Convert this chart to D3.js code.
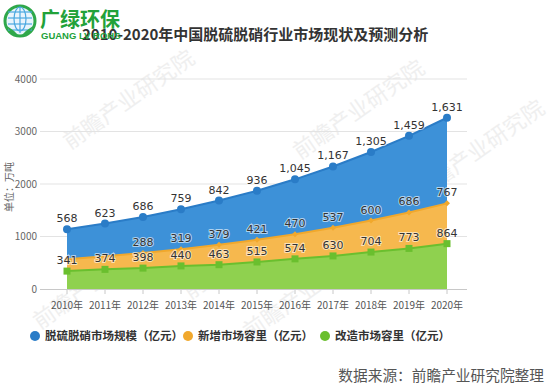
<!DOCTYPE html>
<html>
<head>
<meta charset="utf-8">
<script src="https://cdn.jsdelivr.net/npm/d3@7"></script>
<style>
  body { margin: 0; background: #fff; }
  svg { display: block; font-family: "Noto Sans CJK SC", "Liberation Sans", sans-serif; }
</style>
</head>
<body>
<svg id="chart" width="550" height="388"></svg>
<script>
const years = ["2010年", "2011年", "2012年", "2013年", "2014年", "2015年", "2016年", "2017年", "2018年", "2019年", "2020年"];
const total = [568, 623, 686, 759, 842, 936, 1045, 1167, 1305, 1459, 1631];
const newAdd = [227, 249, 288, 319, 379, 421, 470, 537, 600, 686, 767];
const retrofit = [341, 374, 398, 440, 463, 515, 574, 630, 704, 773, 864];
const yTicks = [0, 1000, 2000, 3000, 4000];
const seriesNames = ["脱硫脱硝市场规模（亿元）", "新增市场容里（亿元）", "改造市场容里（亿元）"];

const svg = d3.select('#chart');

// faint watermarks
const marks = [[70, 150], [190, 300], [300, 160], [420, 200], [40, 330], [250, 340]];
marks.forEach(m => {
    svg.append('text')
        .attr('transform', 'translate(' + m[0] + ',' + m[1] + ') rotate(-35)')
        .attr('font-size', 22)
        .attr('fill', '#e6e6e6')
        .attr('opacity', 0.6)
        .text('前瞻产业研究院');
});

let x = d3.scalePoint().domain(years).range([67, 447]);
let y = d3.scaleLinear().domain([0, 4000]).range([289, 79]);

// grid
svg.append('g')
    .selectAll('line')
    .data(yTicks.slice(1))
    .enter()
    .append('line')
    .attr('x1', 40).attr('x2', 467)
    .attr('y1', d => y(d)).attr('y2', d => y(d))
    .attr('stroke', '#e3e3e3')
    .attr('stroke-width', 1);

svg.append('g')
    .selectAll('text')
    .data(yTicks)
    .enter()
    .append('text')
    .attr('x', 37)
    .attr('y', d => y(d) + 3.5)
    .attr('text-anchor', 'end')
    .attr('font-size', 10)
    .attr('fill', '#666')
    .text(d => d);

svg.append('text')
    .attr('transform', 'translate(13,187) rotate(-90)')
    .attr('text-anchor', 'middle')
    .attr('font-size', 10)
    .attr('fill', '#666')
    .text('单位：万吨');

// stacked data: green, orange, blue(total)
let rows = years.map((d, i) => ({ year: d, retrofit: retrofit[i], newAdd: newAdd[i], total: total[i] }));
let stack = d3.stack().keys(['retrofit', 'newAdd', 'total']);
let layers = stack(rows);

const fills = ['#8fd14f', '#f6b84e', '#3d91d8'];
const lines = ['#6abf2e', '#f1a82c', '#2a7cc7'];

let area = d3.area()
    .x((d, i) => x(years[i]))
    .y0(d => y(d[0]))
    .y1(d => y(d[1]));
let line = d3.line()
    .x((d, i) => x(years[i]))
    .y(d => y(d[1]));

layers.forEach((L, k) => {
    svg.append('path').attr('d', area(L)).attr('fill', fills[k]);
});
layers.forEach((L, k) => {
    svg.append('path').attr('d', line(L)).attr('fill', 'none')
        .attr('stroke', lines[k]).attr('stroke-width', 2);
});

// markers
layers.forEach((L, k) => {
    L.forEach((d, i) => {
        let cx = x(years[i]), cy = y(d[1]);
        if (k == 0) {
            svg.append('rect').attr('x', cx - 3.5).attr('y', cy - 3.5)
                .attr('width', 7).attr('height', 7).attr('fill', lines[k]);
        } else if (k == 1) {
            svg.append('path')
                .attr('d', 'M' + cx + ',' + (cy - 3) + 'L' + (cx + 3) + ',' + cy + 'L' + cx + ',' + (cy + 3) + 'L' + (cx - 3) + ',' + cy + 'Z')
                .attr('fill', lines[k]);
        } else {
            svg.append('circle').attr('cx', cx).attr('cy', cy).attr('r', 4).attr('fill', lines[k]);
        }
    });
});

// axis baseline + ticks
svg.append('line').attr('x1', 40).attr('x2', 467).attr('y1', 289.5).attr('y2', 289.5)
    .attr('stroke', '#c8c8c8');
svg.append('g').selectAll('line').data(years).enter().append('line')
    .attr('x1', d => x(d)).attr('x2', d => x(d))
    .attr('y1', 289.5).attr('y2', 294)
    .attr('stroke', '#c8c8c8');
svg.append('g').selectAll('text').data(years).enter().append('text')
    .attr('x', d => x(d))
    .attr('y', 309)
    .attr('text-anchor', 'middle')
    .attr('font-size', 10)
    .attr('fill', '#555')
    .text(d => d);

// data labels, hide overlapping ones (like highcharts)
let placed = [];
let fmt = d3.format(',');
const vals = [retrofit, newAdd, total];
[0, 2, 1].forEach(k => {
    layers[k].forEach((d, i) => {
        let cx = x(years[i]), cy = y(d[1]) - 11;
        let txt = fmt(vals[k][i]);
        let w = txt.length * 6.3, h = 14.4;
        let box = [cx - w / 2, cy - h / 2, cx + w / 2, cy + h / 2];
        let hit = placed.some(b => !(box[2] < b[0] || box[0] > b[2] || box[3] < b[1] || box[1] > b[3]));
        if (hit) return;
        placed.push(box);
        svg.append('text')
            .attr('x', cx).attr('y', cy + 4)
            .attr('text-anchor', 'middle')
            .attr('font-family', 'DejaVu Sans, sans-serif')
            .attr('font-size', 11)
            .attr('fill', '#333')
            .attr('stroke', '#fff')
            .attr('stroke-width', 2)
            .attr('stroke-opacity', 0.6)
            .attr('paint-order', 'stroke')
            .text(txt);
    });
});

// legend
const legendX = [35, 188, 325];
const legendColors = ['#2a7cc7', '#f1a82c', '#6abf2e'];
seriesNames.forEach((n, i) => {
    svg.append('circle').attr('cx', legendX[i]).attr('cy', 336).attr('r', 5).attr('fill', legendColors[i]);
    svg.append('text').attr('x', legendX[i] + 10).attr('y', 340)
        .attr('font-size', 11.5).attr('font-weight', 'bold').attr('fill', '#333')
        .text(n);
});

// source
svg.append('text').attr('x', 544).attr('y', 381).attr('text-anchor', 'end')
    .attr('font-size', 14.7).attr('fill', '#555')
    .text('数据来源：前瞻产业研究院整理');

// title
svg.append('text').attr('x', 82).attr('y', 40)
    .attr('font-size', 15).attr('font-weight', 'bold').attr('fill', '#333')
    .text('2010-2020年中国脱硫脱硝行业市场现状及预测分析');

// logo
let logo = svg.append('g');
logo.append('circle').attr('cx', 20).attr('cy', 21).attr('r', 15)
    .attr('fill', '#e8f4fc').attr('stroke', '#2fa84a').attr('stroke-width', 3);
[-9, -3, 3, 9].forEach(o => {
    logo.append('line').attr('x1', 8).attr('x2', 32).attr('y1', 21 + o).attr('y2', 21 + o)
        .attr('stroke', '#4aa8e0').attr('stroke-width', 1.2);
});
logo.append('ellipse').attr('cx', 20).attr('cy', 19).attr('rx', 6).attr('ry', 12)
    .attr('fill', 'none').attr('stroke', '#4aa8e0').attr('stroke-width', 1.2);
logo.append('line').attr('x1', 20).attr('x2', 20).attr('y1', 7).attr('y2', 33)
    .attr('stroke', '#4aa8e0').attr('stroke-width', 1.2);
logo.append('path').attr('d', 'M7,26 Q12,36 20,37 Q14,30 7,26 Z M33,26 Q28,36 20,37 Q26,30 33,26 Z')
    .attr('fill', '#2fa84a');
logo.append('text').attr('x', 40).attr('y', 27)
    .attr('font-size', 20).attr('font-weight', 'bold').attr('fill', '#22a23a')
    .text('广绿环保');
logo.append('text').attr('x', 41).attr('y', 39)
    .attr('font-family', 'Liberation Sans, sans-serif')
    .attr('font-size', 9.5).attr('font-weight', 'bold').attr('fill', '#22a23a')
    .text('GUANG LV ROHS');
</script>
</body>
</html>
